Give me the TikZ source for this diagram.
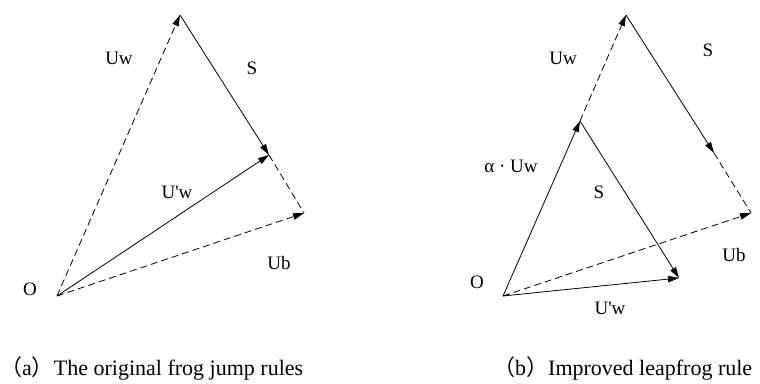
\documentclass[tikz,border=0pt]{standalone}
\usepackage{fontspec}
\setmainfont{Liberation Serif}
\newfontfamily\cjk{Noto Sans CJK SC}
\usetikzlibrary{arrows.meta}
\tikzset{
    vec/.style={-{Triangle[length=11pt,width=6.5pt]},line width=0.8pt},
    dvec/.style={vec,dash pattern=on 7pt off 4pt},
    dline/.style={line width=0.8pt,dash pattern=on 7pt off 4pt},
    lbl/.style={font=\fontsize{19}{22}\selectfont,inner sep=0pt},
    caption/.style={font=\fontsize{22}{26}\selectfont,inner sep=0pt,anchor=base west}
}
\begin{document}
\begin{tikzpicture}[x=1pt,y=-1pt]
    \useasboundingbox (0,0) rectangle (760,383);
    % (a) original rule
    \coordinate (o1) at (57,296);
    \coordinate (t1) at (180,15);
    \coordinate (m1) at (269,155);
    \coordinate (b1) at (304,213);
    \draw[dvec] (o1)--(t1);
    \draw[vec] (t1)--(m1);
    \draw[dline] (m1)--(b1);
    \draw[vec] (o1)--(m1);
    \draw[dvec] (o1)--(b1);
    \node[lbl] (uw1) at (119,58) {Uw};
    \node[lbl] (s1) at (252,68) {S};
    \node[lbl] (uwp1) at (177,192) {U\textquotesingle w};
    \node[lbl] (ub1) at (279,263) {Ub};
    \node[lbl] (O1) at (30,289) {O};
    % (b) improved rule
    \coordinate (o2) at (503,296);
    \coordinate (a2) at (580,121);
    \coordinate (t2) at (626,15);
    \coordinate (p2) at (679,278);
    \coordinate (q2) at (714,153);
    \coordinate (b2) at (751,213);
    \draw[vec] (o2)--(a2);
    \draw[dvec] (a2)--(t2);
    \draw[vec] (a2)--(p2);
    \draw[vec] (o2)--(p2);
    \draw[vec] (t2)--(q2);
    \draw[dline] (q2)--(b2);
    \draw[dvec] (o2)--(b2);
    \node[lbl] (uw2) at (563,58) {Uw};
    \node[lbl] (s2) at (708,50) {S};
    \node[lbl] (auw2) at (511,166) {α · Uw};
    \node[lbl] (s3) at (599,192) {S};
    \node[lbl] (ub2) at (734,255) {Ub};
    \node[lbl] (uwp2) at (610,308) {U\textquotesingle w};
    \node[lbl] (O2) at (477,282) {O};
    % captions
    \node[caption] (capa) at (0,375) {{\cjk （}a{\cjk ）}The original frog jump rules};
    \node[caption] (capb) at (493,375) {{\cjk （}b{\cjk ）}Improved leapfrog rule};
\end{tikzpicture}
\end{document}
